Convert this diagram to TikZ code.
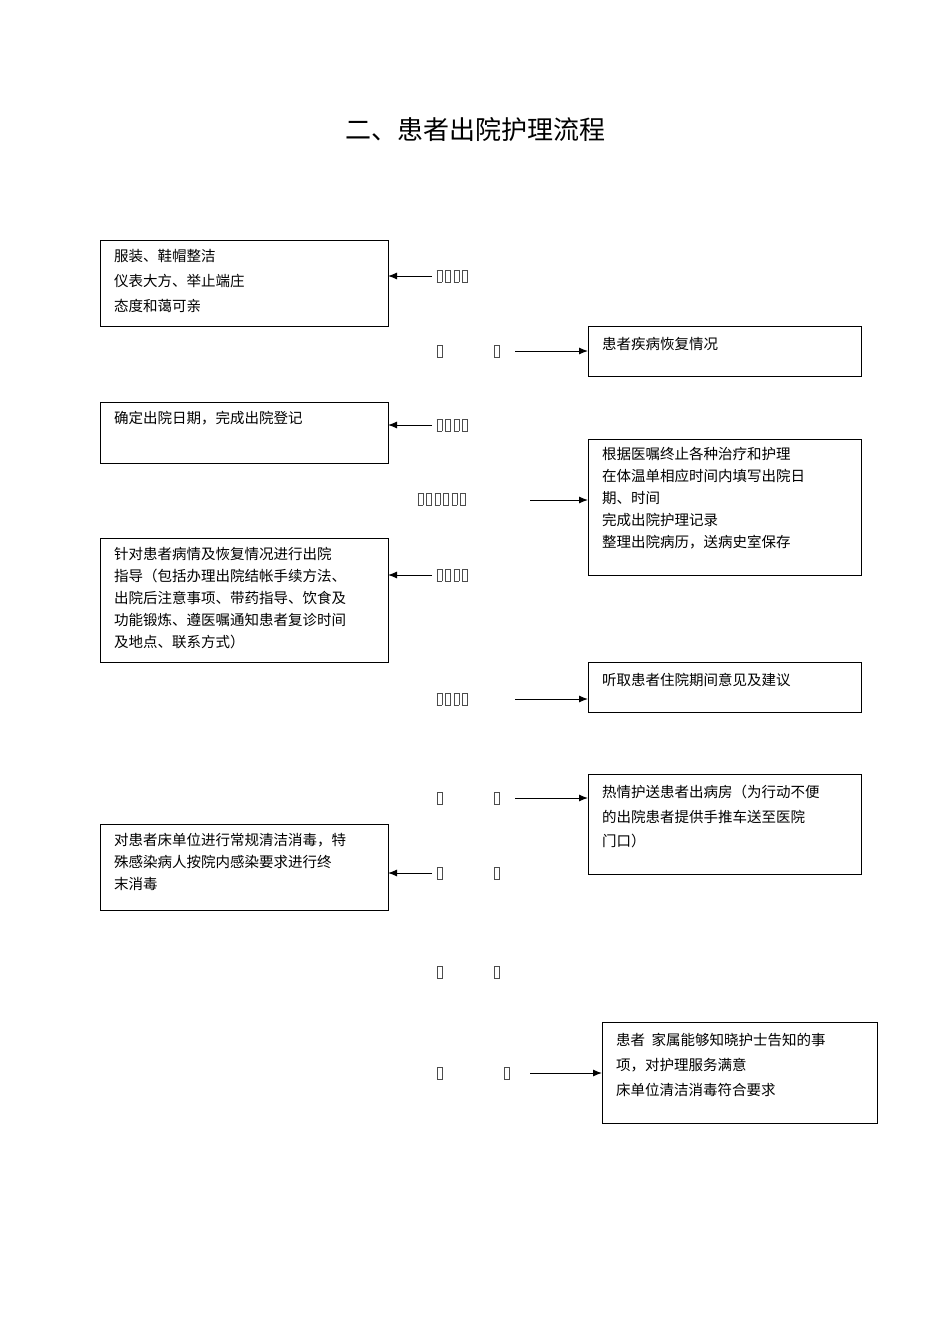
\documentclass[tikz,border=0pt]{standalone}
\usepackage{fontspec}
\setmainfont{Noto Sans CJK SC}
\usetikzlibrary{arrows.meta}
\newcommand\gb{\kern1.5pt{\setlength\fboxsep{0pt}\setlength\fboxrule{0.5pt}\fbox{\rule{0pt}{12pt}\hspace{4.5pt}}}\kern1.5pt}
\begin{document}
\begin{tikzpicture}[x=1pt,y=-1pt,
  bx/.style={draw,line width=0.8pt},
  tx/.style={anchor=north west,align=left,inner sep=0pt,font=\fontsize{14.5}{22}\selectfont},
  gl/.style={inner sep=0pt,text=black!70},
  arr/.style={line width=1pt,-{Latex[length=9pt,width=7pt]}}]
\useasboundingbox (0,0) rectangle (950,1344);
\node[font=\fontsize{26}{30}\selectfont] (title) at (475,130) {二、患者出院护理流程};
% boxes
\draw[bx] (100,240) rectangle (388,326); \coordinate (b1) at (388,276);
\node[tx,font=\fontsize{14.5}{25}\selectfont] (t1) at (114,249) {服装、鞋帽整洁\\仪表大方、举止端庄\\态度和蔼可亲};
\draw[bx] (588,326) rectangle (861,376); \coordinate (b2) at (588,351);
\node[tx] (t2) at (602,337) {患者疾病恢复情况};
\draw[bx] (100,402) rectangle (388,463); \coordinate (b3) at (388,425);
\node[tx] (t3) at (114,411) {确定出院日期，完成出院登记};
\draw[bx] (588,439) rectangle (861,575); \coordinate (b4) at (588,500);
\node[tx] (t4) at (602,447) {根据医嘱终止各种治疗和护理\\在体温单相应时间内填写出院日\\期、时间\\完成出院护理记录\\整理出院病历，送病史室保存};
\draw[bx] (100,538) rectangle (388,662); \coordinate (b5) at (388,575);
\node[tx] (t5) at (114,547) {针对患者病情及恢复情况进行出院\\指导（包括办理出院结帐手续方法、\\出院后注意事项、带药指导、饮食及\\功能锻炼、遵医嘱通知患者复诊时间\\及地点、联系方式）};
\draw[bx] (588,662) rectangle (861,712); \coordinate (b6) at (588,699);
\node[tx] (t6) at (602,673) {听取患者住院期间意见及建议};
\draw[bx] (588,774) rectangle (861,874); \coordinate (b7) at (588,798);
\node[tx,font=\fontsize{14.5}{24.5}\selectfont] (t7) at (602,785) {热情护送患者出病房（为行动不便\\的出院患者提供手推车送至医院\\门口）};
\draw[bx] (100,824) rectangle (388,910); \coordinate (b8) at (388,873);
\node[tx] (t8) at (114,833) {对患者床单位进行常规清洁消毒，特\\殊感染病人按院内感染要求进行终\\末消毒};
\draw[bx] (602,1022) rectangle (877,1123); \coordinate (b9) at (602,1073);
\node[tx,font=\fontsize{14.5}{25}\selectfont] (t9) at (616,1033) {患者\ \ 家属能够知晓护士告知的事\\项，对护理服务满意\\床单位清洁消毒符合要求};
% glyph labels
\node[gl,anchor=west] (g1) at (435,276) {\gb\gb\gb\gb};
\node[gl] (g2a) at (440,351) {\gb}; \node[gl] (g2b) at (497,351) {\gb};
\node[gl,anchor=west] (g3) at (435,425) {\gb\gb\gb\gb};
\node[gl,anchor=west] (g4) at (416,499) {\gb\gb\gb\gb\gb\gb};
\node[gl,anchor=west] (g5) at (435,575) {\gb\gb\gb\gb};
\node[gl,anchor=west] (g6) at (435,699) {\gb\gb\gb\gb};
\node[gl] (g7a) at (440,798) {\gb}; \node[gl] (g7b) at (497,798) {\gb};
\node[gl] (g8a) at (440,873) {\gb}; \node[gl] (g8b) at (497,873) {\gb};
\node[gl] (g9a) at (440,972) {\gb}; \node[gl] (g9b) at (497,972) {\gb};
\node[gl] (g10a) at (440,1073) {\gb}; \node[gl] (g10b) at (507,1073) {\gb};
% arrow tails
\coordinate (s1) at (432,276); \coordinate (s2) at (515,351);
\coordinate (s3) at (432,425); \coordinate (s4) at (530,500);
\coordinate (s5) at (432,575); \coordinate (s6) at (515,699);
\coordinate (s7) at (515,798); \coordinate (s8) at (432,873);
\coordinate (s10) at (530,1073);
\draw[arr] (s1) -- (b1); \draw[arr] (s2) -- (b2);
\draw[arr] (s3) -- (b3); \draw[arr] (s4) -- (b4);
\draw[arr] (s5) -- (b5); \draw[arr] (s6) -- (b6);
\draw[arr] (s7) -- (b7); \draw[arr] (s8) -- (b8);
\draw[arr] (s10) -- (b9);
\end{tikzpicture}
\end{document}
